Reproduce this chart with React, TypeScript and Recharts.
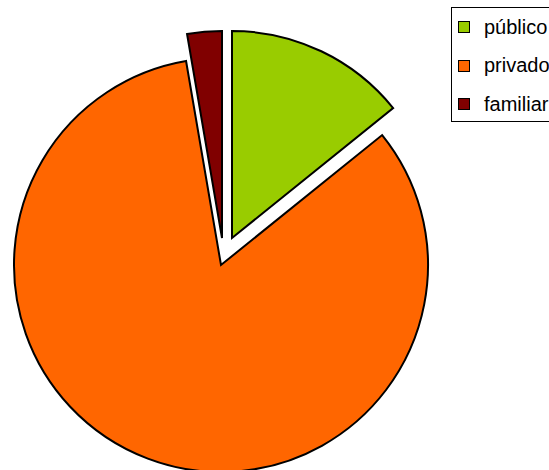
import { PieChart, Pie, Cell, Legend } from 'recharts'

const categories = ['público', 'privado', 'familiar']
const values = [14.2, 83.1, 2.7]
const colors = ['#99cc00', '#ff6600', '#800000']

const data = categories.map((name, i) => ({ name, value: values[i] }))

const RADIUS = 207
// apex of each slice; público and familiar are pulled out of the pie
const centers = [
  { x: 232, y: 238 },
  { x: 221, y: 265 },
  { x: 222, y: 238 },
]

function LegendBox() {
  return (
    <div
      style={{
        border: '1px solid #000',
        width: 130,
        height: 115,
        boxSizing: 'border-box',
        background: '#fff',
        fontFamily: 'Liberation Sans, Arial, sans-serif',
        fontSize: 20,
        color: '#000',
      }}
    >
      {categories.map((name, i) => (
        <div
          key={name}
          style={{ display: 'flex', alignItems: 'center', height: 38.5, paddingLeft: 6, whiteSpace: 'nowrap' }}
        >
          <span
            style={{
              display: 'inline-block',
              flex: 'none',
              width: 12,
              height: 12,
              boxSizing: 'border-box',
              border: '1px solid #000',
              background: colors[i],
              marginRight: 14,
            }}
          />
          <span>{name}</span>
        </div>
      ))}
    </div>
  )
}

export default function App() {
  return (
    <div style={{ position: 'absolute', left: 0, top: 0, width: 549, height: 470, overflow: 'hidden', background: '#fff' }}>
      <PieChart width={549} height={470} margin={{ top: 0, right: 0, bottom: 0, left: 0 }}>
        {categories.map((_, k) => (
          <Pie
            key={k}
            data={data}
            dataKey='value'
            nameKey='name'
            cx={centers[k].x}
            cy={centers[k].y}
            outerRadius={RADIUS}
            startAngle={90}
            endAngle={-270}
            isAnimationActive={false}
            legendType='none'
          >
            {data.map((d, i) => (
              <Cell
                key={d.name}
                fill={i === k ? colors[i] : 'none'}
                stroke={i === k ? '#000' : 'none'}
                strokeWidth={2}
              />
            ))}
          </Pie>
        ))}
        <Legend
          layout='vertical'
          verticalAlign='top'
          align='right'
          content={() => <LegendBox />}
          wrapperStyle={{ left: 451, top: 7, width: 130 }}
        />
      </PieChart>
    </div>
  )
}
